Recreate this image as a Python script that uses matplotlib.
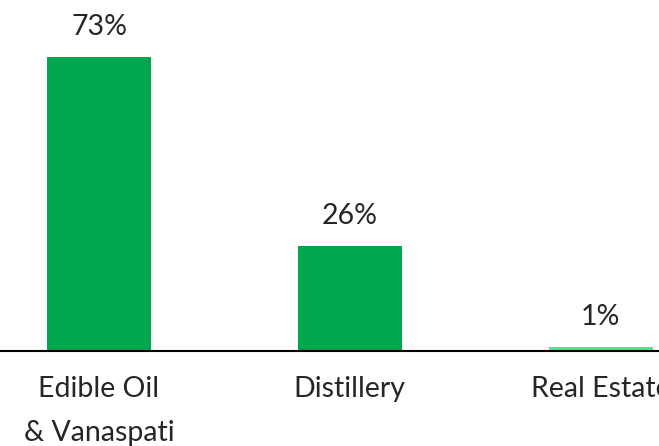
import numpy as np
import matplotlib.pyplot as plt

# segment share of revenue
segments = ["Edible Oil\n& Vanaspati", "Distillery", "Real Estate"]
shares = [73, 26, 1]
colors = ["#00A650", "#00A650", "#3DF08C"]

plt.rcParams['font.family'] = ['Lato', 'DejaVu Sans']

fig = plt.figure(figsize=(6.59, 4.46), dpi=100)
ax = fig.add_axes([0, 0.213, 1, 0.787])

x = np.arange(len(segments))
ax.bar(x, shares, width=0.415, color=colors)

for xi, v in zip(x, shares):
    ax.annotate(f"{v}%", (xi, v), xytext=(0, 16), textcoords="offset points",
                ha="center", va="baseline", fontsize=20.5, fontweight="normal",
                color="#262626")

ax.set_xlim(-0.395, 2.233)
ax.set_ylim(0, 87.1)
ax.set_xticks(x)
ax.set_xticklabels(segments, fontsize=20.5, fontweight="normal", color="#262626",
                   linespacing=1.85)
ax.tick_params(axis="x", length=0, pad=18)
ax.set_yticks([])
for side in ["top", "left", "right"]:
    ax.spines[side].set_visible(False)
ax.spines["bottom"].set_linewidth(1.5)
ax.spines["bottom"].set_color("black")

fig.savefig("out.png", dpi=100)
